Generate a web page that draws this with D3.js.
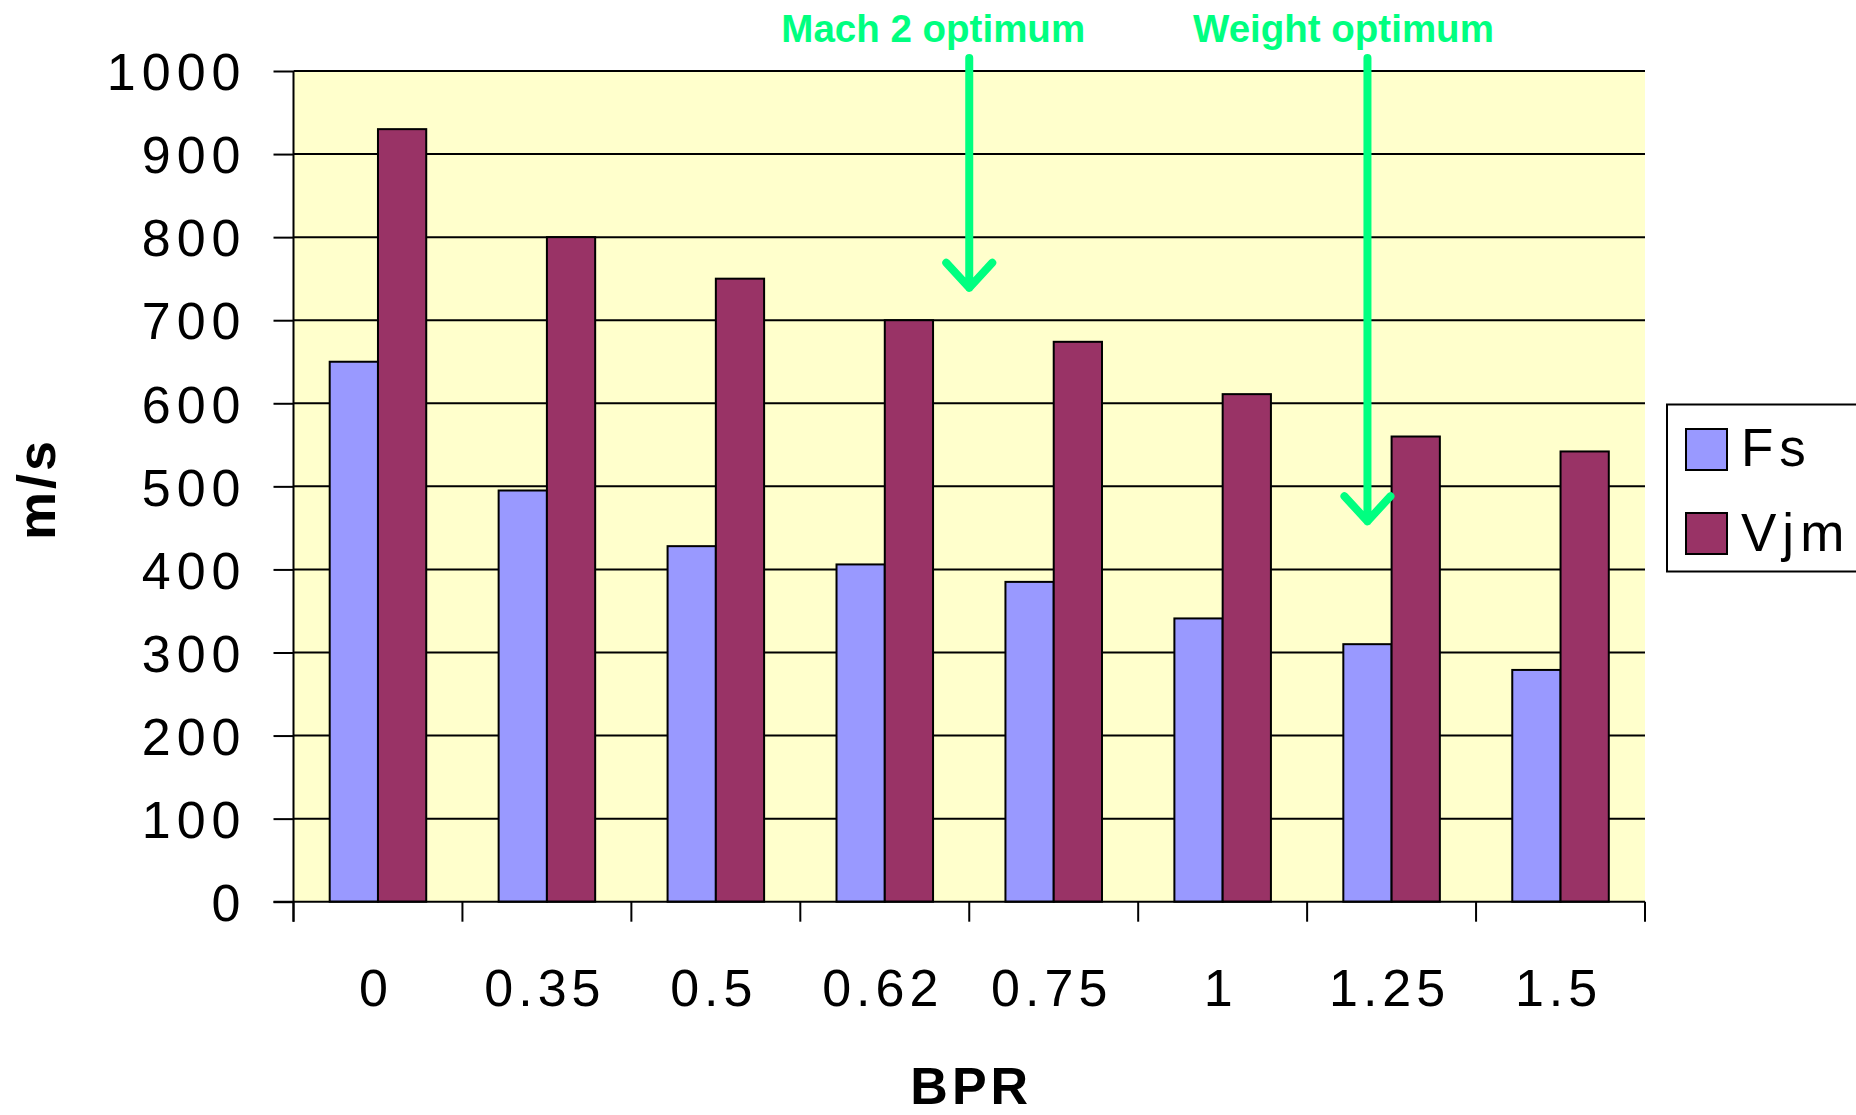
<!DOCTYPE html>
<html>
<head>
<meta charset="utf-8">
<script src="https://cdn.jsdelivr.net/npm/d3@7"></script>
<style>
  html, body { margin: 0; padding: 0; background: #ffffff; }
  svg { display: block; }
  text { font-family: "Liberation Sans", Arial, sans-serif; }
</style>
</head>
<body>
<svg id="chart" width="1856" height="1115"></svg>
<script>
// ---- data ----
const categories = ["0", "0.35", "0.5", "0.62", "0.75", "1", "1.25", "1.5"];
const seriesNames = ["Fs", "Vjm"];
const fsValues  = [650, 495, 428, 406, 385, 341, 310, 279];
const vjmValues = [930, 800, 750, 700, 674, 611, 560, 542];
const yTicks = [0, 100, 200, 300, 400, 500, 600, 700, 800, 900, 1000];
const seriesColors = ["#9999FF", "#993366"];
// annotations: label and arrow tip value
const annoLabels = ["Mach 2 optimum", "Weight optimum"];
const annoTipValues = [739, 458];

// ---- layout ----
const svg = d3.select("#chart");
const plot = { left: 293.5, right: 1645, top: 71, bottom: 901.7 };

const x = d3.scaleBand().domain(categories).range([plot.left, plot.right]).paddingInner(0).paddingOuter(0);
const xs = d3.scaleBand().domain(seriesNames).range([0, x.bandwidth()]).paddingInner(0).paddingOuter(0.75);
const y = d3.scaleLinear().domain([0, 1000]).range([plot.bottom, plot.top]);

// plot background
svg.append("rect")
  .attr("x", plot.left).attr("y", plot.top)
  .attr("width", plot.right - plot.left).attr("height", plot.bottom - plot.top)
  .attr("fill", "#FFFFCC");

// gridlines
svg.append("g").selectAll("line").data(yTicks.filter(d => d > 0)).join("line")
  .attr("x1", plot.left).attr("x2", plot.right)
  .attr("y1", d => y(d)).attr("y2", d => y(d))
  .attr("stroke", "#000").attr("stroke-width", 2);

// bars
const rows = categories.map((c, i) => ({ cat: c, vals: [fsValues[i], vjmValues[i]] }));
const groups = svg.append("g").selectAll("g").data(rows).join("g")
  .attr("transform", d => `translate(${x(d.cat)},0)`);
groups.selectAll("rect").data(d => d.vals.map((v, j) => ({ name: seriesNames[j], v, j }))).join("rect")
  .attr("x", d => xs(d.name))
  .attr("width", xs.bandwidth())
  .attr("y", d => y(d.v))
  .attr("height", d => y(0) - y(d.v))
  .attr("fill", d => seriesColors[d.j])
  .attr("stroke", "#000").attr("stroke-width", 2);

// y axis
const yAxis = d3.axisLeft(y).tickValues(yTicks).tickSize(20).tickPadding(27).tickFormat(d3.format("d"));
const gy = svg.append("g").attr("transform", `translate(${plot.left},0)`).call(yAxis);
gy.select(".domain").remove();
gy.selectAll(".tick line").attr("stroke", "#000").attr("stroke-width", 2);
gy.selectAll(".tick text").attr("font-size", 52).attr("letter-spacing", "6px")
  .attr("fill", "#000").attr("dy", "0.36em");
svg.append("line").attr("x1", plot.left).attr("x2", plot.left)
  .attr("y1", plot.top).attr("y2", plot.bottom + 20)
  .attr("stroke", "#000").attr("stroke-width", 2);

// x axis
svg.append("line").attr("x1", plot.left - 20).attr("x2", plot.right)
  .attr("y1", plot.bottom).attr("y2", plot.bottom)
  .attr("stroke", "#000").attr("stroke-width", 2);
const boundaries = categories.map(c => x(c)).concat([x.range()[1]]);
svg.append("g").selectAll("line").data(boundaries).join("line")
  .attr("x1", d => d).attr("x2", d => d)
  .attr("y1", plot.bottom).attr("y2", plot.bottom + 20)
  .attr("stroke", "#000").attr("stroke-width", 2);
const xAxis = d3.axisBottom(x).tickSize(0).tickPadding(67);
const gx = svg.append("g").attr("transform", `translate(0,${plot.bottom})`).call(xAxis);
gx.select(".domain").remove();
gx.selectAll(".tick text").attr("font-size", 52).attr("letter-spacing", "5px")
  .attr("fill", "#000").attr("dy", "0.71em").attr("dx", "-2px");

// axis titles
svg.append("text").attr("x", (plot.left + plot.right) / 2 + 2).attr("y", 1104)
  .attr("text-anchor", "middle").attr("font-size", 52).attr("font-weight", "bold")
  .attr("letter-spacing", "4px").text("BPR");
svg.append("text").attr("transform", "translate(55,489) rotate(-90)")
  .attr("text-anchor", "middle").attr("font-size", 54).attr("font-weight", "bold")
  .attr("letter-spacing", "3px").text("m/s");

// legend
const leg = svg.append("g");
leg.append("rect").attr("x", 1667).attr("y", 404.5).attr("width", 220).attr("height", 167)
  .attr("fill", "#fff").attr("stroke", "#000").attr("stroke-width", 2);
seriesNames.forEach((n, i) => {
  leg.append("rect").attr("x", 1686).attr("y", 429 + i * 84).attr("width", 41).attr("height", 41)
    .attr("fill", seriesColors[i]).attr("stroke", "#000").attr("stroke-width", 2);
  leg.append("text").attr("x", 1741).attr("y", 466 + i * 85).attr("font-size", 53)
    .attr("letter-spacing", "6px").attr("fill", "#000").text(n);
});

// annotations (arrows)
const green = "#00FF80";
const arrowX = [x("0.75"), x("1.25") + xs("Fs") + xs.bandwidth() / 2];
const textDX = [-36, -24];
const ann = svg.append("g");
annoLabels.forEach((lab, i) => {
  const ax = arrowX[i], tip = y(annoTipValues[i]);
  ann.append("text").attr("x", ax + textDX[i]).attr("y", 42)
    .attr("text-anchor", "middle").attr("font-size", 38.5).attr("font-weight", "bold")
    .attr("fill", green).text(lab);
  ann.append("path")
    .attr("d", `M${ax},58 L${ax},${tip} M${ax - 23},${tip - 25} L${ax},${tip} L${ax + 23},${tip - 25}`)
    .attr("fill", "none").attr("stroke", green).attr("stroke-width", 8)
    .attr("stroke-linecap", "round").attr("stroke-linejoin", "round");
});
</script>
</body>
</html>
